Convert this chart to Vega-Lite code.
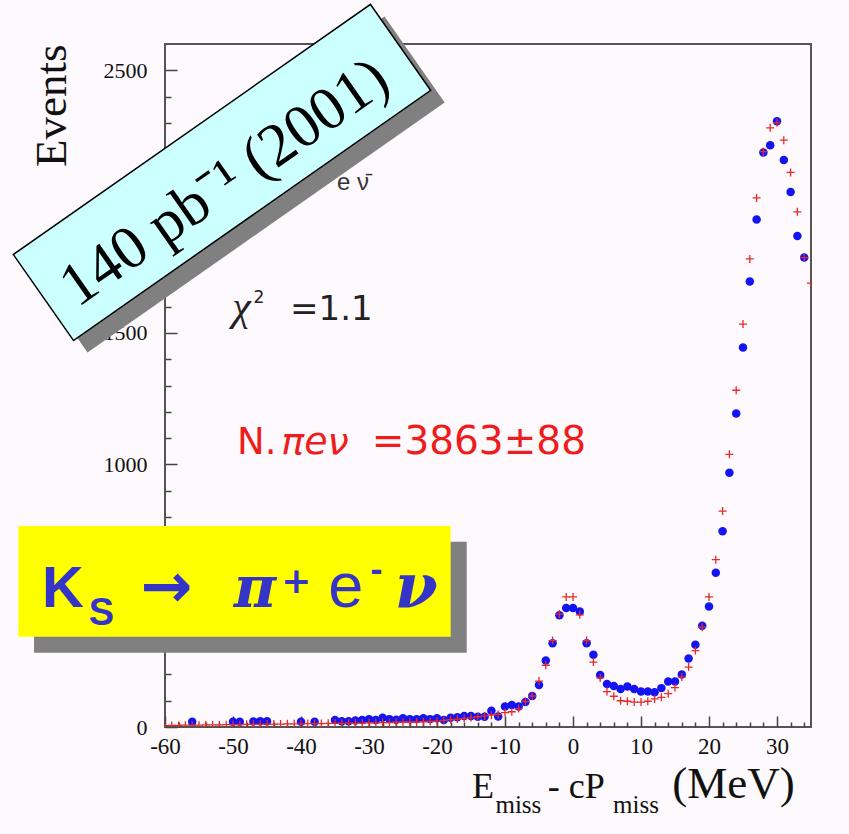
{
  "$schema": "https://vega.github.io/schema/vega-lite/v6.json",
  "autosize": "none",
  "width": 646,
  "height": 683,
  "padding": {"left": 165, "top": 44, "right": 38, "bottom": 107},
  "background": "#fdf9fd",
  "config": {
    "view": {"stroke": "#555555", "strokeWidth": 2}
  },
  "resolve": {"axis": {"x": "independent", "y": "independent"}},
  "datasets": {
    "data": [
      {"delta": -56, "events": 20}, {"delta": -50, "events": 20}, {"delta": -49, "events": 20},
      {"delta": -47, "events": 21}, {"delta": -46, "events": 22}, {"delta": -45, "events": 22},
      {"delta": -40, "events": 20}, {"delta": -38, "events": 20}, {"delta": -35, "events": 27},
      {"delta": -34, "events": 22}, {"delta": -33, "events": 22}, {"delta": -32, "events": 25},
      {"delta": -31, "events": 27}, {"delta": -30, "events": 30}, {"delta": -29, "events": 27},
      {"delta": -28, "events": 35}, {"delta": -27, "events": 30}, {"delta": -26, "events": 28},
      {"delta": -25, "events": 33}, {"delta": -24, "events": 30}, {"delta": -23, "events": 30},
      {"delta": -22, "events": 33}, {"delta": -21, "events": 30}, {"delta": -20, "events": 33},
      {"delta": -19, "events": 27}, {"delta": -18, "events": 35}, {"delta": -17, "events": 37},
      {"delta": -16, "events": 42}, {"delta": -15, "events": 42}, {"delta": -14, "events": 39},
      {"delta": -13, "events": 39}, {"delta": -12, "events": 62}, {"delta": -11, "events": 40},
      {"delta": -10, "events": 78}, {"delta": -9, "events": 84}, {"delta": -8, "events": 78},
      {"delta": -7, "events": 95}, {"delta": -6, "events": 118}, {"delta": -5, "events": 160},
      {"delta": -4, "events": 253}, {"delta": -3, "events": 319}, {"delta": -2, "events": 425},
      {"delta": -1, "events": 453}, {"delta": 0, "events": 453}, {"delta": 1, "events": 440},
      {"delta": 2, "events": 319}, {"delta": 3, "events": 275}, {"delta": 4, "events": 198},
      {"delta": 5, "events": 164}, {"delta": 6, "events": 156}, {"delta": 7, "events": 145},
      {"delta": 8, "events": 154}, {"delta": 9, "events": 145}, {"delta": 10, "events": 135},
      {"delta": 11, "events": 135}, {"delta": 12, "events": 132}, {"delta": 13, "events": 148},
      {"delta": 14, "events": 173}, {"delta": 15, "events": 173}, {"delta": 16, "events": 200},
      {"delta": 17, "events": 261}, {"delta": 18, "events": 313}, {"delta": 19, "events": 385},
      {"delta": 20, "events": 459}, {"delta": 21, "events": 587}, {"delta": 22, "events": 745},
      {"delta": 23, "events": 968}, {"delta": 24, "events": 1193}, {"delta": 25, "events": 1445},
      {"delta": 26, "events": 1696}, {"delta": 27, "events": 1932}, {"delta": 28, "events": 2187},
      {"delta": 29, "events": 2215}, {"delta": 30, "events": 2306}, {"delta": 31, "events": 2158},
      {"delta": 32, "events": 2037}, {"delta": 33, "events": 1869}, {"delta": 34, "events": 1787}
    ],
    "mc": [
      {"delta": -60, "events": 5}, {"delta": -59, "events": 6}, {"delta": -58, "events": 6},
      {"delta": -57, "events": 7}, {"delta": -56, "events": 7}, {"delta": -55, "events": 7},
      {"delta": -54, "events": 8}, {"delta": -53, "events": 8}, {"delta": -52, "events": 8},
      {"delta": -51, "events": 9}, {"delta": -50, "events": 9}, {"delta": -49, "events": 9},
      {"delta": -48, "events": 10}, {"delta": -47, "events": 10}, {"delta": -46, "events": 10},
      {"delta": -45, "events": 11}, {"delta": -44, "events": 11}, {"delta": -43, "events": 11},
      {"delta": -42, "events": 12}, {"delta": -41, "events": 12}, {"delta": -40, "events": 12},
      {"delta": -39, "events": 13}, {"delta": -38, "events": 13}, {"delta": -37, "events": 13},
      {"delta": -36, "events": 14}, {"delta": -35, "events": 14}, {"delta": -34, "events": 14},
      {"delta": -33, "events": 15}, {"delta": -32, "events": 15}, {"delta": -31, "events": 15},
      {"delta": -30, "events": 16}, {"delta": -29, "events": 16}, {"delta": -28, "events": 17},
      {"delta": -27, "events": 17}, {"delta": -26, "events": 18}, {"delta": -25, "events": 18},
      {"delta": -24, "events": 18}, {"delta": -23, "events": 19}, {"delta": -22, "events": 20},
      {"delta": -21, "events": 21}, {"delta": -20, "events": 22}, {"delta": -19, "events": 25},
      {"delta": -18, "events": 28}, {"delta": -17, "events": 30}, {"delta": -16, "events": 33},
      {"delta": -15, "events": 36}, {"delta": -14, "events": 39}, {"delta": -13, "events": 42},
      {"delta": -12, "events": 45}, {"delta": -11, "events": 48}, {"delta": -10, "events": 55},
      {"delta": -9, "events": 58}, {"delta": -8, "events": 70}, {"delta": -7, "events": 97},
      {"delta": -6, "events": 118}, {"delta": -5, "events": 175}, {"delta": -4, "events": 235},
      {"delta": -3, "events": 329}, {"delta": -2, "events": 430}, {"delta": -1, "events": 495},
      {"delta": 0, "events": 495}, {"delta": 1, "events": 427}, {"delta": 2, "events": 329},
      {"delta": 3, "events": 247}, {"delta": 4, "events": 187}, {"delta": 5, "events": 135},
      {"delta": 6, "events": 117}, {"delta": 7, "events": 100}, {"delta": 8, "events": 98},
      {"delta": 9, "events": 95}, {"delta": 10, "events": 95}, {"delta": 11, "events": 98},
      {"delta": 12, "events": 107}, {"delta": 13, "events": 113}, {"delta": 14, "events": 127},
      {"delta": 15, "events": 150}, {"delta": 16, "events": 190}, {"delta": 17, "events": 228},
      {"delta": 18, "events": 291}, {"delta": 19, "events": 380}, {"delta": 20, "events": 495},
      {"delta": 21, "events": 637}, {"delta": 22, "events": 822}, {"delta": 23, "events": 1038},
      {"delta": 24, "events": 1282}, {"delta": 25, "events": 1534}, {"delta": 26, "events": 1782},
      {"delta": 27, "events": 2014}, {"delta": 28, "events": 2190}, {"delta": 29, "events": 2281},
      {"delta": 30, "events": 2300}, {"delta": 31, "events": 2234}, {"delta": 32, "events": 2111},
      {"delta": 33, "events": 1961}, {"delta": 34, "events": 1787}, {"delta": 35, "events": 1690}
    ]
  },
  "layer": [
    {
      "data": {"name": "data"},
      "mark": {"type": "point", "shape": "circle", "filled": true, "size": 72, "color": "#1414f2", "opacity": 1},
      "encoding": {
        "x": {
          "field": "delta", "type": "quantitative",
          "scale": {"domain": [-60, 35], "nice": false, "zero": false},
          "axis": {
            "orient": "bottom", "title": null,
            "values": [-60, -50, -40, -30, -20, -10, 0, 10, 20, 30],
            "labelExpr": "toString(datum.value)",
            "tickSize": -11, "tickColor": "#444444", "tickWidth": 1.5,
            "domain": false, "grid": false,
            "labelFont": "Liberation Serif", "labelFontSize": 23, "labelColor": "#111111",
            "labelPadding": 19, "labelOverlap": false, "labelFlush": false
          }
        },
        "y": {
          "field": "events", "type": "quantitative",
          "scale": {"domain": [0, 2600], "nice": false, "zero": true},
          "axis": {
            "orient": "left",
            "title": "Events",
            "titleFont": "Liberation Serif", "titleFontSize": 45, "titleFontWeight": "normal",
            "titleColor": "#111111", "titleAnchor": "end", "titlePadding": 29,
            "values": [0, 500, 1000, 1500, 2000, 2500],
            "labelExpr": "toString(datum.value)",
            "tickSize": -12, "tickColor": "#444444", "tickWidth": 1.5,
            "domain": false, "grid": false,
            "labelFont": "Liberation Serif", "labelFontSize": 22, "labelColor": "#111111",
            "labelPadding": 30, "labelOverlap": false, "labelFlush": false
          }
        }
      }
    },
    {
      "data": {"name": "mc"},
      "mark": {"type": "point", "shape": "M-1,0L1,0M0,-1L0,1", "filled": false, "size": 64, "color": "#e52a2a", "strokeWidth": 1.3, "opacity": 1, "clip": true},
      "encoding": {
        "x": {
          "field": "delta", "type": "quantitative",
          "axis": {
            "orient": "bottom", "title": null, "labels": false,
            "values": [-58, -56, -54, -52, -48, -46, -44, -42, -38, -36, -34, -32, -28, -26, -24, -22, -18, -16, -14, -12, -8, -6, -4, -2, 2, 4, 6, 8, 12, 14, 16, 18, 22, 24, 26, 28, 32, 34],
            "tickSize": -5, "tickColor": "#444444", "tickWidth": 1.5,
            "domain": false, "grid": false
          }
        },
        "y": {
          "field": "events", "type": "quantitative",
          "axis": {
            "orient": "left", "title": null, "labels": false,
            "values": [100, 200, 300, 400, 600, 700, 800, 900, 1100, 1200, 1300, 1400, 1600, 1700, 1800, 1900, 2100, 2200, 2300, 2400],
            "tickSize": -6, "tickColor": "#444444", "tickWidth": 1.5,
            "domain": false, "grid": false
          }
        }
      }
    },
    {
      "data": {"values": [{}]},
      "mark": {"type": "text", "text": "e ν̄", "font": "Liberation Sans", "fontSize": 24, "align": "left", "baseline": "alphabetic", "color": "#333333"},
      "encoding": {"x": {"datum": -34.7, "type": "quantitative", "axis": null}, "y": {"datum": 2044, "type": "quantitative", "axis": null}}
    },
    {
      "data": {"values": [{}]},
      "mark": {"type": "text", "text": "χ", "font": "Liberation Serif", "fontStyle": "italic", "fontSize": 42, "align": "left", "baseline": "alphabetic", "color": "#222222"},
      "encoding": {"x": {"datum": -50.1, "type": "quantitative", "axis": null}, "y": {"datum": 1549, "type": "quantitative", "axis": null}}
    },
    {
      "data": {"values": [{}]},
      "mark": {"type": "text", "text": "2", "font": "DejaVu Sans", "fontSize": 17, "align": "left", "baseline": "alphabetic", "color": "#222222"},
      "encoding": {"x": {"datum": -47.0, "type": "quantitative", "axis": null}, "y": {"datum": 1614, "type": "quantitative", "axis": null}}
    },
    {
      "data": {"values": [{}]},
      "mark": {"type": "text", "text": "=1.1", "font": "DejaVu Sans", "fontSize": 34, "align": "left", "baseline": "alphabetic", "color": "#222222"},
      "encoding": {"x": {"datum": -41.6, "type": "quantitative", "axis": null}, "y": {"datum": 1549, "type": "quantitative", "axis": null}}
    },
    {
      "data": {"values": [{}]},
      "mark": {"type": "text", "text": "N.", "font": "DejaVu Sans", "fontSize": 37, "align": "left", "baseline": "alphabetic", "color": "#ee1c1c"},
      "encoding": {"x": {"datum": -49.4, "type": "quantitative", "axis": null}, "y": {"datum": 1039, "type": "quantitative", "axis": null}}
    },
    {
      "data": {"values": [{}]},
      "mark": {"type": "text", "text": "πeν", "font": "DejaVu Sans", "fontStyle": "italic", "fontSize": 38, "align": "left", "baseline": "alphabetic", "color": "#ee1c1c"},
      "encoding": {"x": {"datum": -42.9, "type": "quantitative", "axis": null}, "y": {"datum": 1039, "type": "quantitative", "axis": null}}
    },
    {
      "data": {"values": [{}]},
      "mark": {"type": "text", "text": "=3863±88", "font": "DejaVu Sans", "fontSize": 39, "align": "left", "baseline": "alphabetic", "color": "#ee1c1c"},
      "encoding": {"x": {"datum": -29.6, "type": "quantitative", "axis": null}, "y": {"datum": 1039, "type": "quantitative", "axis": null}}
    },
    {
      "data": {"values": [{}]},
      "mark": {"type": "point", "shape": "M-1,-0.2408L1,-0.2408L1,0.2408L-1,0.2408Z", "size": 190096, "angle": -35, "filled": true, "color": "#808080", "opacity": 1},
      "encoding": {"x": {"datum": -49.56, "type": "quantitative", "axis": null}, "y": {"datum": 2065, "type": "quantitative", "axis": null}}
    },
    {
      "data": {"values": [{}]},
      "mark": {"type": "point", "shape": "M-1,-0.2408L1,-0.2408L1,0.2408L-1,0.2408Z", "size": 190096, "angle": -35, "filled": true, "color": "#ccffff", "stroke": "#000000", "strokeWidth": 1.5, "opacity": 1},
      "encoding": {"x": {"datum": -51.62, "type": "quantitative", "axis": null}, "y": {"datum": 2111, "type": "quantitative", "axis": null}}
    },
    {
      "data": {"values": [{}]},
      "mark": {"type": "text", "text": "140 pb⁻¹ (2001)", "font": "Liberation Serif", "fontSize": 61, "angle": -35, "align": "center", "baseline": "middle", "color": "#000000"},
      "encoding": {"x": {"datum": -51.2, "type": "quantitative", "axis": null}, "y": {"datum": 2071, "type": "quantitative", "axis": null}}
    },
    {
      "data": {"values": [{}]},
      "mark": {"type": "rect", "color": "#808080", "opacity": 1},
      "encoding": {
        "x": {"datum": -79.26, "type": "quantitative", "axis": null}, "x2": {"datum": -15.63},
        "y": {"datum": 705.4, "type": "quantitative", "axis": null}, "y2": {"datum": 282.8}
      }
    },
    {
      "data": {"values": [{}]},
      "mark": {"type": "rect", "color": "#ffff00", "opacity": 1},
      "encoding": {
        "x": {"datum": -81.57, "type": "quantitative", "axis": null}, "x2": {"datum": -17.99},
        "y": {"datum": 765.2, "type": "quantitative", "axis": null}, "y2": {"datum": 343.8}
      }
    },
    {
      "data": {"values": [{}]},
      "mark": {"type": "text", "text": "K", "font": "Liberation Sans", "fontWeight": "bold", "fontSize": 58, "align": "left", "baseline": "alphabetic", "color": "#3434c8"},
      "encoding": {"x": {"datum": -78.1, "type": "quantitative", "axis": null}, "y": {"datum": 456.8, "type": "quantitative", "axis": null}}
    },
    {
      "data": {"values": [{}]},
      "mark": {"type": "text", "text": "S", "font": "Liberation Sans", "fontWeight": "bold", "fontSize": 38, "align": "left", "baseline": "alphabetic", "color": "#3434c8"},
      "encoding": {"x": {"datum": -71.2, "type": "quantitative", "axis": null}, "y": {"datum": 388.3, "type": "quantitative", "axis": null}}
    },
    {
      "data": {"values": [{}]},
      "mark": {"type": "text", "text": "→", "font": "DejaVu Sans", "fontWeight": "bold", "fontSize": 62, "align": "left", "baseline": "alphabetic", "color": "#3434c8"},
      "encoding": {"x": {"datum": -63.6, "type": "quantitative", "axis": null}, "y": {"datum": 456.8, "type": "quantitative", "axis": null}}
    },
    {
      "data": {"values": [{}]},
      "mark": {"type": "text", "text": "π", "font": "DejaVu Serif", "fontWeight": "bold", "fontStyle": "italic", "fontSize": 58, "align": "left", "baseline": "alphabetic", "color": "#3434c8"},
      "encoding": {"x": {"datum": -49.9, "type": "quantitative", "axis": null}, "y": {"datum": 456.8, "type": "quantitative", "axis": null}}
    },
    {
      "data": {"values": [{}]},
      "mark": {"type": "text", "text": "+", "font": "DejaVu Sans", "fontWeight": "bold", "fontSize": 36, "align": "left", "baseline": "alphabetic", "color": "#3434c8"},
      "encoding": {"x": {"datum": -42.9, "type": "quantitative", "axis": null}, "y": {"datum": 510, "type": "quantitative", "axis": null}}
    },
    {
      "data": {"values": [{}]},
      "mark": {"type": "text", "text": "e", "font": "Liberation Sans", "fontSize": 63, "align": "left", "baseline": "alphabetic", "color": "#3434c8"},
      "encoding": {"x": {"datum": -36.0, "type": "quantitative", "axis": null}, "y": {"datum": 456.8, "type": "quantitative", "axis": null}}
    },
    {
      "data": {"values": [{}]},
      "mark": {"type": "text", "text": "-", "font": "DejaVu Sans", "fontWeight": "bold", "fontSize": 30, "align": "left", "baseline": "alphabetic", "color": "#3434c8"},
      "encoding": {"x": {"datum": -29.8, "type": "quantitative", "axis": null}, "y": {"datum": 555, "type": "quantitative", "axis": null}}
    },
    {
      "data": {"values": [{}]},
      "mark": {"type": "text", "text": "ν", "font": "DejaVu Serif", "fontWeight": "bold", "fontStyle": "italic", "fontSize": 62, "align": "left", "baseline": "alphabetic", "color": "#3434c8"},
      "encoding": {"x": {"datum": -26.2, "type": "quantitative", "axis": null}, "y": {"datum": 456.8, "type": "quantitative", "axis": null}}
    },
    {
      "data": {"values": [{}]},
      "mark": {"type": "text", "text": "E", "font": "Liberation Serif", "fontSize": 36, "align": "left", "baseline": "alphabetic", "color": "#111111"},
      "encoding": {"x": {"datum": -14.85, "type": "quantitative", "axis": null}, "y": {"datum": -270.3, "type": "quantitative", "axis": null}}
    },
    {
      "data": {"values": [{}]},
      "mark": {"type": "text", "text": "miss", "font": "Liberation Serif", "fontSize": 25, "align": "left", "baseline": "alphabetic", "color": "#111111"},
      "encoding": {"x": {"datum": -11.4, "type": "quantitative", "axis": null}, "y": {"datum": -327.4, "type": "quantitative", "axis": null}}
    },
    {
      "data": {"values": [{}]},
      "mark": {"type": "text", "text": "- cP", "font": "Liberation Serif", "fontSize": 36, "align": "left", "baseline": "alphabetic", "color": "#111111"},
      "encoding": {"x": {"datum": -3.7, "type": "quantitative", "axis": null}, "y": {"datum": -270.3, "type": "quantitative", "axis": null}}
    },
    {
      "data": {"values": [{}]},
      "mark": {"type": "text", "text": "miss", "font": "Liberation Serif", "fontSize": 25, "align": "left", "baseline": "alphabetic", "color": "#111111"},
      "encoding": {"x": {"datum": 5.9, "type": "quantitative", "axis": null}, "y": {"datum": -327.4, "type": "quantitative", "axis": null}}
    },
    {
      "data": {"values": [{}]},
      "mark": {"type": "text", "text": "(MeV)", "font": "Liberation Serif", "fontSize": 45, "align": "left", "baseline": "alphabetic", "color": "#111111"},
      "encoding": {"x": {"datum": 14.6, "type": "quantitative", "axis": null}, "y": {"datum": -270.3, "type": "quantitative", "axis": null}}
    }
  ]
}
